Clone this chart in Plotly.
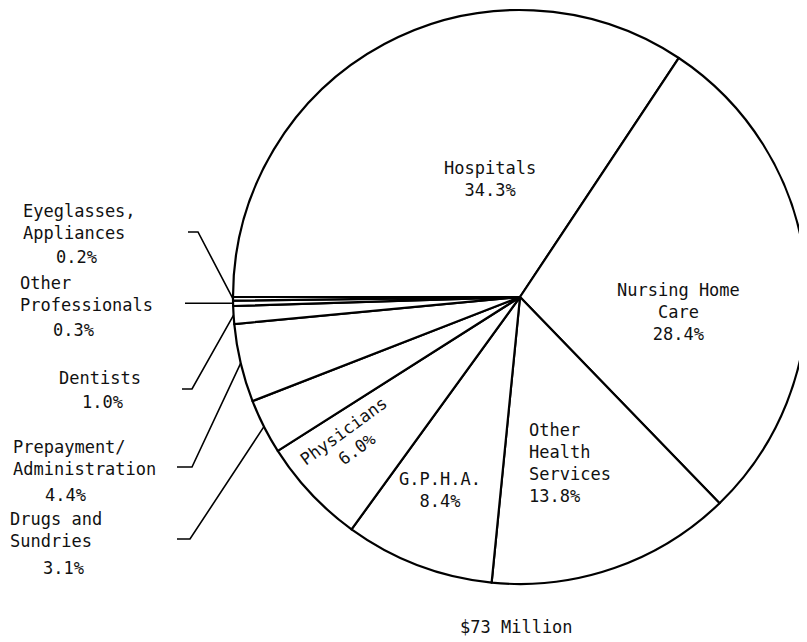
import math
import plotly.graph_objects as go

# ---------------- data ----------------
categories = ["Hospitals", "Nursing Home Care", "Other Health Services", "G.P.H.A.",
              "Physicians", "Drugs and Sundries", "Prepayment/Administration",
              "Dentists", "Other Professionals", "Eyeglasses, Appliances"]
shares = [34.3, 28.4, 13.8, 8.4, 6.0, 3.1, 4.4, 1.0, 0.3, 0.2]
label_lines = ["Hospitals", "Nursing Home<br>Care", "Other<br>Health<br>Services", "G.P.H.A.",
               "Physicians", "Drugs and<br>Sundries", "Prepayment/<br>Administration",
               "Dentists", "Other<br>Professionals", "Eyeglasses,<br>Appliances"]
total_label = "$73 Million"

# ---------------- layout geometry (page pixel coordinates) ----------------
OFF = 8                      # default body margin of the html page
W, H = 807 - OFF, 642 - OFF  # figure size
CX, CY, R = 520, 297, 287
FONT = dict(family="DejaVu Sans Mono", size=17, color="#111111")


def P(x, y):
    return (x - OFF) / W, 1 - (y - OFF) / H


pct = [f"{v:.1f}%" for v in shares]
total = sum(shares)

fig = go.Figure(go.Pie(
    labels=categories, values=shares, sort=False, direction="clockwise",
    rotation=-90, textinfo="none", hoverinfo="label+percent",
    marker=dict(colors=["white"] * len(shares), line=dict(color="black", width=2.2)),
    domain=dict(x=[(CX - R - OFF) / W, min(1, (CX + R - OFF) / W)],
                y=[1 - (CY + R - OFF) / H, 1 - (CY - R - OFF) / H]),
    showlegend=False,
))

annotations = []
shapes = []


def add_text(text, x, y, xanchor="center", align="center", angle=0):
    ax, ay = P(x, y)
    annotations.append(dict(text=text, x=ax, y=ay, xref="paper", yref="paper",
                            xanchor=xanchor, yanchor="middle", align=align,
                            textangle=angle, showarrow=False, font=FONT))


idx = {c: i for i, c in enumerate(categories)}

# labels inside slices
add_text(label_lines[0] + "<br>" + pct[0], 490, 179)
add_text(label_lines[1] + "<br>" + pct[1], 678, 312)
add_text(label_lines[2] + "<br>" + pct[2], 527, 463, xanchor="left", align="left")
add_text(label_lines[3] + "<br>" + pct[3], 440, 490)
add_text(label_lines[4] + "<br>" + pct[4], 350, 440, angle=-36)

# outside labels on the left: (name block position, percent position, leader start)
# lead y of None -> leader runs horizontally at the slice's own height
outside = {
    "Eyeglasses, Appliances": dict(name=(21, 222, "left"), pct=(76, 257), lead=[(188, 232), (198, 232)]),
    "Other Professionals": dict(name=(18, 294, "left"), pct=(73, 330), lead=[(185, None)]),
    "Dentists": dict(name=(100, 378, "center"), pct=(102, 402), lead=[(182, 389), (192, 389)]),
    "Prepayment/Administration": dict(name=(11, 458, "left"), pct=(66, 495), lead=[(177, 467), (192, 467)]),
    "Drugs and Sundries": dict(name=(8, 530, "left"), pct=(63, 568), lead=[(177, 539), (190, 539)]),
}

cum = 0.0
mids = []
for v in shares:
    frac_mid = (cum + v / 2) / total
    mids.append(math.radians(180 - 360 * frac_mid))
    cum += v

for cat, spec in outside.items():
    i = idx[cat]
    nx, ny, anchor = spec["name"]
    add_text(label_lines[i], nx, ny, xanchor=anchor, align="left" if anchor == "left" else "center")
    px, py = spec["pct"]
    add_text(pct[i], px, py)
    th = mids[i]
    ex, ey = CX + R * math.cos(th), CY - R * math.sin(th)
    pts = [(x, ey if y is None else y) for x, y in spec["lead"]] + [(ex, ey)]
    path = "M " + " L ".join(f"{P(x, y)[0]:.5f},{P(x, y)[1]:.5f}" for x, y in pts)
    shapes.append(dict(type="path", path=path, xref="paper", yref="paper",
                       line=dict(color="black", width=1.6)))

add_text(total_label, 516, 627)

fig.update_layout(
    width=W, height=H, margin=dict(l=0, r=0, t=0, b=0),
    paper_bgcolor="white", plot_bgcolor="white",
    annotations=annotations, shapes=shapes,
)

fig.write_html("out.html")
